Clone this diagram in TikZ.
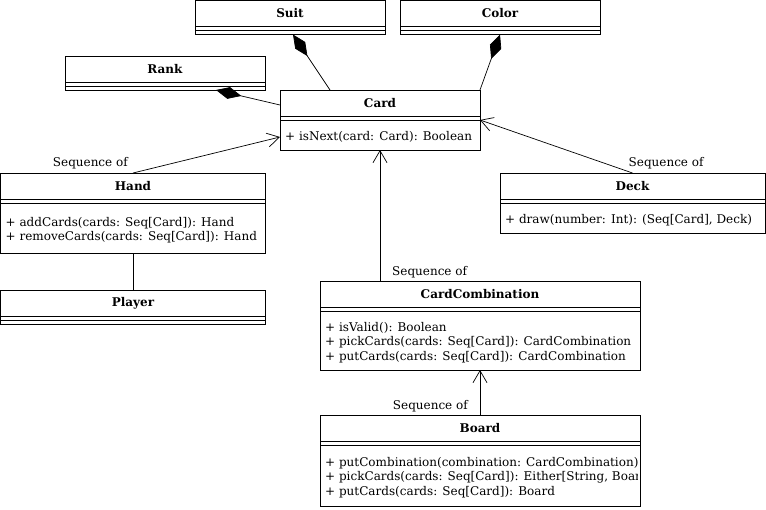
\documentclass[tikz,border=0pt]{standalone}
\usepackage{fontspec}
\setmainfont{DejaVu Serif}
\usetikzlibrary{arrows.meta,positioning}

\tikzset{
  umlfont/.style={font=\fontsize{12}{14.2}\selectfont},
  classtitle/.style={draw, line width=0.8pt, font=\fontsize{12}{14.2}\selectfont\bfseries,
    inner sep=0pt, outer sep=0pt, minimum height=26pt, anchor=north west},
  classpart/.style={draw, line width=0.8pt, inner sep=0pt, outer sep=0pt},
  methods/.style={umlfont, anchor=west, align=left, inner sep=0pt, xshift=5pt, yshift=-2pt},
  compose/.style={{Diamond[length=26pt,width=12pt]}-, line width=0.7pt},
  seqof/.style={-{Straight Barb[length=12pt,width=14pt]}, line width=0.7pt},
  seqlabel/.style={umlfont, inner sep=1pt}
}

\begin{document}
\begin{tikzpicture}[x=1pt,y=-1pt]
    \useasboundingbox (0,0) rectangle (766,509);

    % Suit
    \node[classtitle, minimum width=190pt] (suit-t) at (195,0.5) {Suit};
    \node[classpart, minimum width=190pt, minimum height=4pt, below=0pt of suit-t] (suit-a) {};
    \node[classpart, minimum width=190pt, minimum height=4pt, below=0pt of suit-a] (suit-m) {};

    % Color
    \node[classtitle, minimum width=200pt] (color-t) at (400,0.5) {Color};
    \node[classpart, minimum width=200pt, minimum height=4pt, below=0pt of color-t] (color-a) {};
    \node[classpart, minimum width=200pt, minimum height=4pt, below=0pt of color-a] (color-m) {};

    % Rank
    \node[classtitle, minimum width=200pt] (rank-t) at (65,56) {Rank};
    \node[classpart, minimum width=200pt, minimum height=4pt, below=0pt of rank-t] (rank-a) {};
    \node[classpart, minimum width=200pt, minimum height=4pt, below=0pt of rank-a] (rank-m) {};

    % Card
    \node[classtitle, minimum width=200pt] (card-t) at (280,90) {Card};
    \node[classpart, minimum width=200pt, minimum height=4pt, below=0pt of card-t] (card-a) {};
    \node[classpart, minimum width=200pt, minimum height=30pt, below=0pt of card-a] (card-m) {};
    \node[methods] (card-ops) at (card-m.west) {+ isNext(card: Card): Boolean};

    % Hand
    \node[classtitle, minimum width=265pt] (hand-t) at (0.5,173) {Hand};
    \node[classpart, minimum width=265pt, minimum height=4pt, below=0pt of hand-t] (hand-a) {};
    \node[classpart, minimum width=265pt, minimum height=50pt, below=0pt of hand-a] (hand-m) {};
    \node[methods] (hand-ops) at (hand-m.west) {+ addCards(cards: Seq[Card]): Hand\\+ removeCards(cards: Seq[Card]): Hand};

    % Deck
    \node[classtitle, minimum width=265pt] (deck-t) at (500,173) {Deck};
    \node[classpart, minimum width=265pt, minimum height=4pt, below=0pt of deck-t] (deck-a) {};
    \node[classpart, minimum width=265pt, minimum height=30pt, below=0pt of deck-a] (deck-m) {};
    \node[methods] (deck-ops) at (deck-m.west) {+ draw(number: Int): (Seq[Card], Deck)};

    % Player
    \node[classtitle, minimum width=265pt] (player-t) at (0.5,290) {Player};
    \node[classpart, minimum width=265pt, minimum height=4pt, below=0pt of player-t] (player-a) {};
    \node[classpart, minimum width=265pt, minimum height=4pt, below=0pt of player-a] (player-m) {};

    % CardCombination
    \node[classtitle, minimum width=320pt] (comb-t) at (320,281) {CardCombination};
    \node[classpart, minimum width=320pt, minimum height=4pt, below=0pt of comb-t] (comb-a) {};
    \node[classpart, minimum width=320pt, minimum height=59pt, below=0pt of comb-a] (comb-m) {};
    \node[methods] (comb-ops) at (comb-m.west) {+ isValid(): Boolean\\+ pickCards(cards: Seq[Card]): CardCombination\\+ putCards(cards: Seq[Card]): CardCombination};

    % Board (text cut at the box edge)
    \node[classtitle, minimum width=320pt] (board-t) at (320,415) {Board};
    \node[classpart, minimum width=320pt, minimum height=4pt, below=0pt of board-t] (board-a) {};
    \node[classpart, minimum width=320pt, minimum height=61pt, below=0pt of board-a] (board-m) {};
    \begin{scope}
        \clip (board-m.north west) rectangle ([xshift=-3pt]board-m.south east);
        \node[methods] (board-ops) at (board-m.west) {+ putCombination(combination: CardCombination)\\+ pickCards(cards: Seq[Card]): Either[String, Board]\\+ putCards(cards: Seq[Card]): Board};
    \end{scope}

    % Compositions
    \draw[compose] ([xshift=3pt]suit-m.south) -- ([xshift=-50pt]card-t.north);
    \draw[compose] (color-m.south) -- (card-t.north east);
    \draw[compose] ([xshift=51pt]rank-m.south) -- ([yshift=-2pt]card-t.west);

    % Sequence of
    \draw[seqof] (hand-t.north) -- ([yshift=-2pt]card-m.west);
    \node[seqlabel, anchor=south east] (hand-lbl) at ([xshift=-4pt,yshift=3pt]hand-t.north) {Sequence of};

    \draw[seqof] (deck-t.north) -- (card-m.north east);
    \node[seqlabel, anchor=south west] (deck-lbl) at ([xshift=-5pt,yshift=3pt]deck-t.north) {Sequence of};

    \draw[seqof] (comb-t.north -| card-m.south) -- (card-m.south);
    \node[seqlabel, anchor=south west] (comb-lbl) at ([xshift=11pt,yshift=2pt]comb-t.north -| card-m.south) {Sequence of};

    \draw[seqof] (board-t.north) -- (comb-m.south);
    \node[seqlabel, anchor=south east] (board-lbl) at ([xshift=-11pt,yshift=2pt]board-t.north) {Sequence of};

    % Hand - Player
    \draw[line width=0.7pt] (hand-m.south) -- (player-t.north);
\end{tikzpicture}
\end{document}
